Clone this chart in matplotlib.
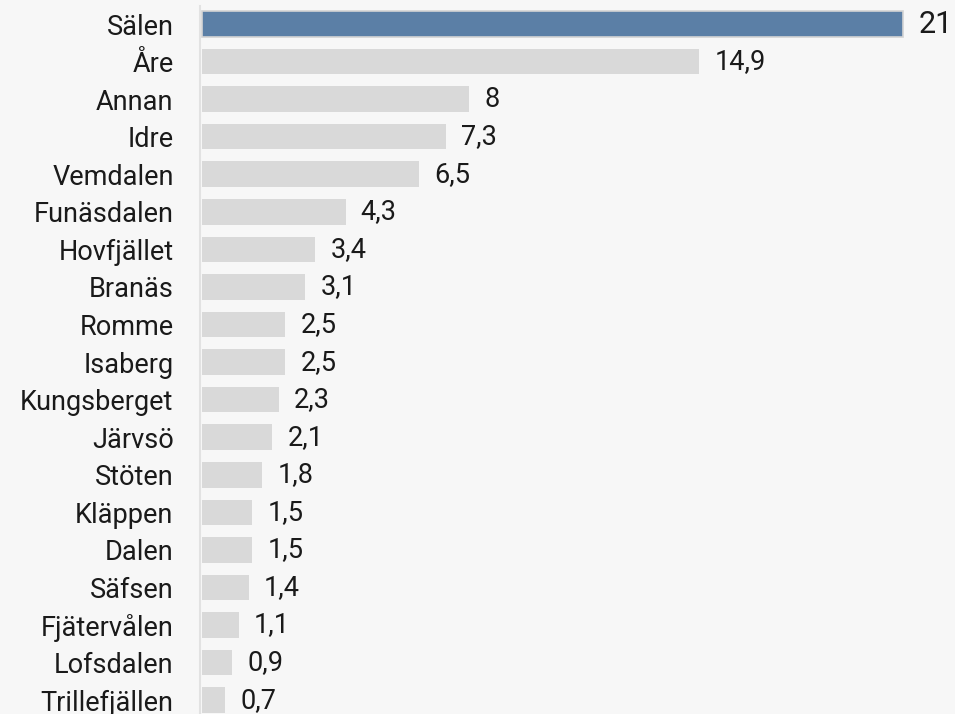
import matplotlib
matplotlib.use("Agg")
import matplotlib.pyplot as plt

plt.rcParams['font.family'] = ['Roboto', 'DejaVu Sans']

places = ["Sälen", "Åre", "Annan", "Idre", "Vemdalen", "Funäsdalen", "Hovfjället",
          "Branäs", "Romme", "Isaberg", "Kungsberget", "Järvsö", "Stöten", "Kläppen",
          "Dalen", "Säfsen", "Fjätervålen", "Lofsdalen", "Trillefjällen"]
shares = [21, 14.9, 8, 7.3, 6.5, 4.3, 3.4, 3.1, 2.5, 2.5, 2.3, 2.1, 1.8, 1.5, 1.5,
          1.4, 1.1, 0.9, 0.7]

bg = '#f7f7f7'
fig = plt.figure(figsize=(9.55, 7.14), dpi=100, facecolor=bg)
ax = fig.add_axes([200 / 955, 0, 755 / 955, 708 / 714])
ax.set_facecolor(bg)

ypos = list(range(len(places)))
colors = ['#5b7fa6'] + ['#d9d9d9'] * (len(places) - 1)
edges = ['#d4d4d4'] + ['none'] * (len(places) - 1)
ax.barh(ypos, shares, height=0.68, color=colors, edgecolor=edges, linewidth=1.2)

for i, v in enumerate(shares):
    txt = f"{v:g}".replace('.', ',')
    ax.annotate(txt, (v, i), xytext=(11, 0), textcoords='offset points',
                va='center', ha='left', fontsize=22 if i == 0 else 19.5, color='#1a1a1a')

ax.set_yticks(ypos)
ax.set_yticklabels(places, fontsize=19.5, color='#1a1a1a')
ax.tick_params(axis='y', length=0, pad=19)
ax.set_xticks([])
ax.set_xlim(-0.06, 22.56)
ax.set_ylim(18.37, -0.48)

for s in ['top', 'right', 'bottom']:
    ax.spines[s].set_visible(False)
ax.spines['left'].set_color('#e2e2e2')
ax.spines['left'].set_linewidth(1.5)

fig.savefig('out.png', dpi=100, facecolor=bg)
